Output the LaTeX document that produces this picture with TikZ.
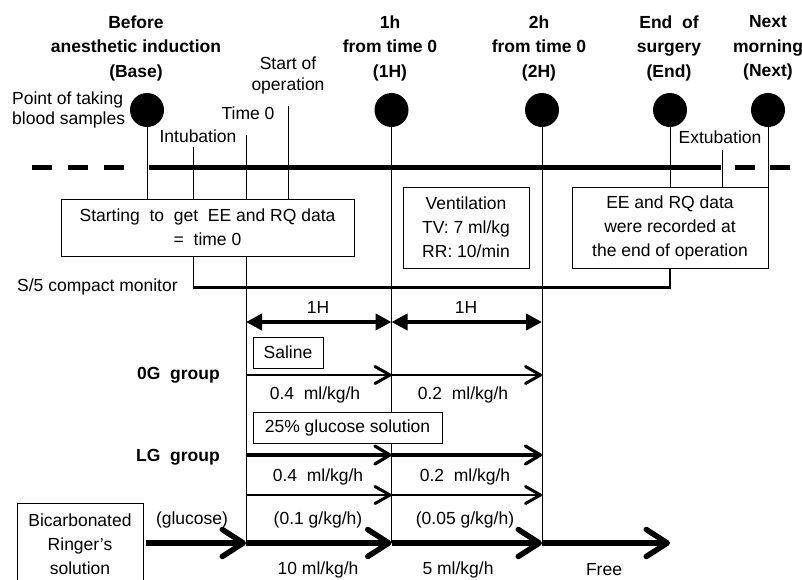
\documentclass[tikz,border=0pt]{standalone}
\usepackage{fontspec}
\setmainfont{Liberation Sans}
\usetikzlibrary{arrows.meta}
\begin{document}
\begin{tikzpicture}[x=1pt,y=-1pt,
  txt/.style={font=\fontsize{17.5}{20}\selectfont, inner sep=0pt, align=center},
  hdr/.style={font=\fontsize{17.5}{24.5}\selectfont\bfseries, inner sep=0pt, align=center},
  grp/.style={font=\fontsize{17.5}{20}\selectfont\bfseries, inner sep=0pt, anchor=east},
  dot/.style={circle, fill=black, minimum size=34pt, inner sep=0pt},
  thin/.style={line width=0.9pt},
  boxed/.style={draw, fill=white, line width=0.9pt, inner sep=0pt, align=center,
    font=\fontsize{17.5}{24}\selectfont},
  dim/.style={line width=4pt, {Triangle[length=16pt,width=16pt]}-{Triangle[length=16pt,width=16pt]}},
  flow/.style={line width=2.8pt, -{Straight Barb[length=15pt,width=17pt,line width=3pt,round]}},
  flowb/.style={line width=4pt, -{Straight Barb[length=15pt,width=18pt,line width=3.2pt,round]}},
  ringer/.style={line width=5.5pt, -{Straight Barb[length=21pt,width=27pt,line width=5.5pt,round]}},
  timeline/.style={line width=5pt},
  monitor/.style={line width=2.6pt}
]
\useasboundingbox (0,0) rectangle (802,579);

% headers
\node[hdr] (hbase) at (136,48) {Before\\anesthetic induction\\(Base)};
\node[hdr] (h1) at (390,48) {1h\\from time 0\\(1H)};
\node[hdr] (h2) at (539,48) {2h\\from time 0\\(2H)};
\node[hdr] (hend) at (669,48) {End\ \ of\\surgery\\(End)};
\node[hdr] (hnext) at (768,48) {Next\\morning\\(Next)};

% blood sample points
\node[dot] (cb) at (147,110) {};
\node[dot] (c1) at (391.5,110) {};
\node[dot] (c2) at (542,110) {};
\node[dot] (ce) at (670,110) {};
\node[dot] (cn) at (768,110) {};

\node[txt, align=left, anchor=west] (pts) at (12,110) {Point of taking\\blood samples};
\node[txt] (lint) at (198,136) {Intubation};
\node[txt] (lt0) at (248,113) {Time 0};
\node[txt, font=\fontsize{17.5}{21}\selectfont] (lsop) at (288,75.5) {Start of\\operation};
\node[txt] (lext) at (720,137) {Extubation};

% boxes
\node[boxed, minimum width=293pt, minimum height=57pt] (box1) at (207.5,227.5)
  {Starting~ to~ get~ EE and RQ data\\=~ time 0};
\node[boxed, minimum width=126pt, minimum height=81pt] (box2) at (466,227.5)
  {Ventilation\\TV: 7 ml/kg\\RR: 10/min};
\node[boxed, minimum width=196pt, minimum height=81pt] (box3) at (670,227.5)
  {EE and RQ data\\were recorded at\\the end of operation};

% timeline
\draw[timeline, dash pattern=on 20pt off 16pt] (32,167) -- (124,167);
\draw[timeline] (149,167) -- (721,167);
\draw[timeline, dash pattern=on 20pt off 15pt] (735,167) -- (791,167);

% tick coordinates
\coordinate (tint) at (193,147);
\coordinate (tt0) at (246,135);
\coordinate (tsop) at (288,106);
\coordinate (text) at (722,150);
\coordinate (monL) at (193,287.5);
\coordinate (monR) at (670,287.5);
\coordinate (bottom1) at (391.5,543);
\coordinate (bottom2) at (542,543);
\coordinate (bottom0) at (246,543);

\draw[thin] (cb.south) -- (cb.south |- box1.north);
\draw[thin] (tint) -- (tint |- box1.north);
\draw[thin] (tt0) -- (tt0 |- box1.north);
\draw[thin] (tsop) -- (tsop |- box1.north);
\draw[thin] (ce.south) -- (ce.south |- box3.north);
\draw[thin] (cn.south) -- (cn.south |- box3.north);
\draw[thin] (text) -- (text |- box3.north);

% monitor
\draw[thin] (tint |- box1.south) -- (monL);
\draw[monitor] (monL) -- (monR) -- (box3.south);
\node[txt, anchor=west] (lmon) at (17,287) {S/5 compact monitor};

% long verticals
\draw[thin] (tt0 |- box1.south) -- (bottom0);
\draw[thin] (c1.south) -- (bottom1);
\draw[thin] (c2.south) -- (bottom2);

% 1H dims
\coordinate (d0) at (246,322);
\coordinate (d1) at (391.5,322);
\coordinate (d2) at (542,322);
\draw[dim] (d0) -- (d1);
\draw[dim] (d1) -- (d2);
\node[txt] (l1h1) at (318,307) {1H};
\node[txt] (l1h2) at (466,307) {1H};

% 0G group
\node[boxed, minimum width=70pt, minimum height=31pt, font=\fontsize{17.5}{20}\selectfont] (saline) at (288,352.5) {Saline};
\node[grp] (g0) at (220,375) {0G~ group};
\coordinate (a0) at (246,375);
\coordinate (a1) at (391.5,375);
\coordinate (a2) at (542,375);
\draw[flow] (a0) -- (a1);
\draw[flow] (a1) -- (a2);
\node[txt] (r01) at (315,395) {0.4~ ml/kg/h};
\node[txt] (r02) at (463,395) {0.2~ ml/kg/h};

% LG group
\node[grp] (g1) at (220,457) {LG~ group};
\coordinate (b0) at (246,455);
\coordinate (b1) at (391.5,455);
\coordinate (b2) at (542,455);
\draw[flowb] (b0) -- (b1);
\draw[flowb] (b1) -- (b2);
\node[boxed, minimum width=189pt, minimum height=31pt, font=\fontsize{17.5}{20}\selectfont] (gluc) at (347.5,427.5) {25\% glucose solution};
\node[txt] (r11) at (318,477) {0.4~ ml/kg/h};
\node[txt] (r12) at (465,477) {0.2~ ml/kg/h};
\coordinate (e0) at (246,495);
\coordinate (e1) at (391.5,495);
\coordinate (e2) at (542,495);
\draw[flow] (e0) -- (e1);
\draw[flow] (e1) -- (e2);
\node[txt] (r21) at (318,520) {(0.1 g/kg/h)};
\node[txt] (r22) at (465,520) {(0.05 g/kg/h)};

% Ringer
\node[draw, thin, minimum width=126pt, minimum height=90pt, inner sep=0pt] (rbox) at (80,548) {};
\node[txt, font=\fontsize{17.5}{24}\selectfont] (rtxt) at (80,544) {Bicarbonated\\Ringer’s\\solution};
\node[txt] (lglu) at (192,520) {(glucose)};
\coordinate (f0) at (246,543);
\coordinate (f1) at (391.5,543);
\coordinate (f2) at (542,543);
\coordinate (f3) at (670,543);
\draw[ringer] (rbox.east |- f0) ++(3,0) -- (f0);
\draw[ringer] (f0) -- (f1);
\draw[ringer] (f1) -- (f2);
\draw[ringer] (f2) -- (f3);
\node[txt] (r31) at (318,570) {10 ml/kg/h};
\node[txt] (r32) at (458,570) {5 ml/kg/h};
\node[txt] (r33) at (604,570) {Free};
\end{tikzpicture}
\end{document}
